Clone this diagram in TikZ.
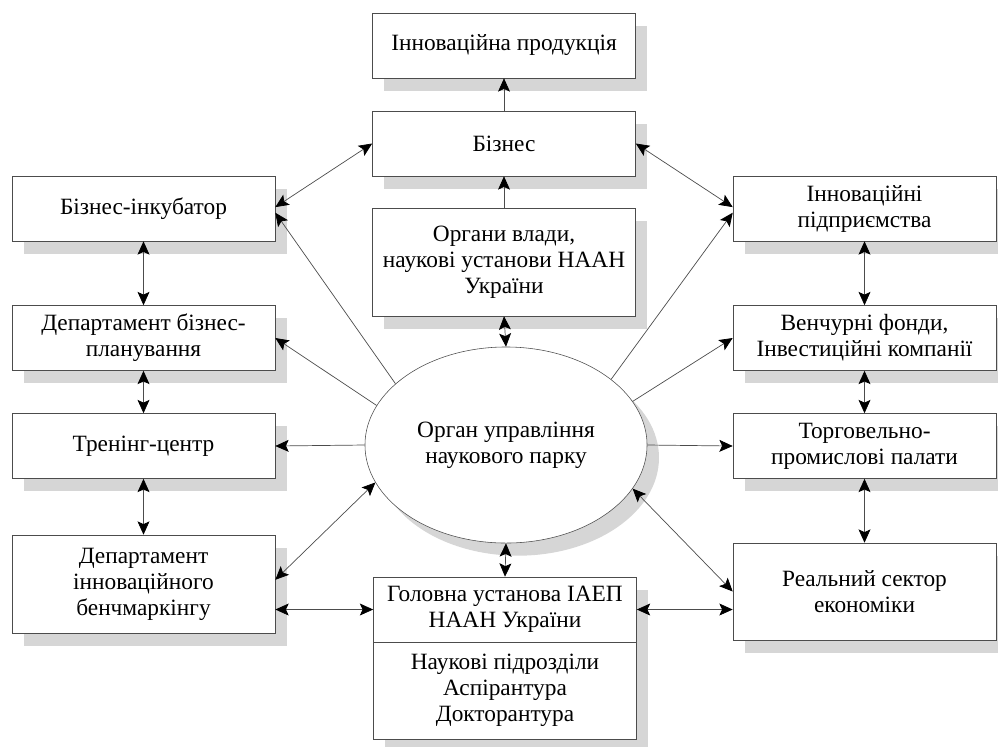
\documentclass[tikz,border=0pt]{standalone}
\usepackage{fontspec}
\setmainfont{Liberation Serif}
\usetikzlibrary{arrows.meta,shapes.geometric,shadows}
\definecolor{pLine}{gray}{0.3}
\definecolor{pShade}{gray}{0.84}
\tikzset{
    box/.style={rectangle, draw=pLine, fill=white, align=center, inner sep=2pt,
        minimum width=6.575cm, minimum height=1.625cm,
        drop shadow={shadow xshift=8.5pt, shadow yshift=-9pt, fill=pShade, opacity=1}},
    oval/.style={ellipse, draw=pLine, fill=white, align=center, inner sep=0pt,
        minimum width=7.05cm, minimum height=4.9cm,
        drop shadow={shadow xshift=8.5pt, shadow yshift=-9pt, fill=pShade, opacity=1}},
    link/.style={draw=pLine, line width=0.5pt, -{Stealth[length=9.5pt,width=8.5pt,inset=2pt,color=black]}},
    both/.style={link, {Stealth[length=9.5pt,width=8.5pt,inset=2pt,color=black]}-{Stealth[length=9.5pt,width=8.5pt,inset=2pt,color=black]}}
}

\begin{document}
\begin{tikzpicture}[x=0.025cm,y=-0.025cm,font=\fontsize{16.6}{18.5}\selectfont]
\useasboundingbox (0,0) rectangle (998,746);
% centre column
\node[box] (prod) at (504,45.5) {Інноваційна продукція};
\node[box] (biz) at (504,143.5) {Бізнес};
\node[box,minimum height=2.7cm] (vlada) at (504,262) {Органи влади,\\наукові установи НААН\\України};
\node[oval] (park) at (506,445) {Орган управління\\наукового парку};
\node[box] (golov) at (505,609.5) {Головна установа ІАЕП\\НААН України};
\node[box,minimum height=2.425cm] (nauk) at (505,690.5) {Наукові підрозділи\\Аспірантура\\Докторантура};
% left column
\node[box] (inkub) at (143.5,208.5) {Бізнес-інкубатор};
\node[box] (plan) at (143.5,338) {Департамент бізнес-\\планування};
\node[box] (tren) at (143.5,446) {Тренінг-центр};
\node[box,minimum height=2.45cm] (bench) at (143.5,584) {Департамент\\інноваційного\\бенчмаркінгу};
% right column
\node[box] (innov) at (864.5,208.5) {Інноваційні\\підприємства};
\node[box] (vench) at (864.5,338) {Венчурні фонди,\\Інвестиційні компанії};
\node[box] (torg) at (864.5,446) {Торговельно-\\промислові палати};
\node[box,minimum height=2.425cm] (real) at (864.5,591.5) {Реальний сектор\\економіки};

\draw[link] (biz.north) -- (prod.south);
\draw[link] (vlada.north) -- (biz.south);
\draw[both] (vlada.south) -- (park.north);
\draw[both] (park.south) -- (golov.north);
\draw[both] (biz.west) -- ([yshift=1pt]inkub.east);
\draw[both] (biz.east) -- ([yshift=1pt]innov.west);
\draw[link] (park.151) -- ([yshift=-3pt]inkub.east);
\draw[link] (park.32) -- ([yshift=-3pt]innov.west);
\draw[link] (park.163) -- (plan.east);
\draw[link] (park.19) -- (vench.west);
\draw[link] (park.west) -- (tren.east);
\draw[link] (park.east) -- (torg.west);
\draw[both] (park.196) -- ([yshift=3pt]bench.east);
\draw[both] (park.341) -- (real.west);
\draw[both] (golov.west -| bench.east) -- (golov.west);
\draw[both] (golov.east) -- (golov.east -| real.west);
\draw[both] (inkub.south) -- (plan.north);
\draw[both] (plan.south) -- (tren.north);
\draw[both] (tren.south) -- (bench.north);
\draw[both] (innov.south) -- (vench.north);
\draw[both] (vench.south) -- (torg.north);
\draw[both] (torg.south) -- (real.north);
\end{tikzpicture}
\end{document}
